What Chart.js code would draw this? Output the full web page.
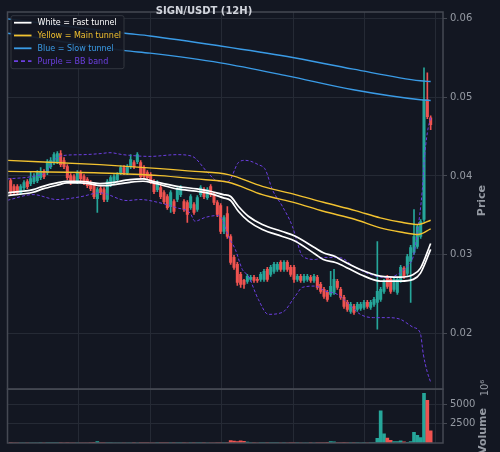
<!DOCTYPE html>
<html>
<head>
<meta charset="utf-8">
<script src="https://cdn.jsdelivr.net/npm/chart.js@4.4.0/dist/chart.umd.min.js"></script>
<style>
  html, body { margin: 0; padding: 0; background: #131722; }
</style>
</head>
<body>
<canvas id="chart" width="500" height="452"></canvas>
<script>
// candles, 12h bars, index 0..126
const open = [
  0.03940, 0.03864, 0.03864, 0.03788, 0.03852, 0.03928, 0.03902, 0.03928, 0.03940, 0.03978,
  0.04054, 0.04042, 0.04118, 0.04169, 0.04181, 0.04283, 0.04194, 0.04118, 0.04004, 0.03991,
  0.03928, 0.04042, 0.03991, 0.03953, 0.03915, 0.03877, 0.03712, 0.03839, 0.03826, 0.03700,
  0.03890, 0.03915, 0.03953, 0.04042, 0.04105, 0.04042, 0.04118, 0.04169, 0.04181, 0.04169,
  0.04105, 0.04042, 0.04016, 0.03928, 0.03826, 0.03852, 0.03788, 0.03738, 0.03611, 0.03674,
  0.03700, 0.03763, 0.03674, 0.03662, 0.03598, 0.03636, 0.03573, 0.03763, 0.03826, 0.03725,
  0.03864, 0.03763, 0.03662, 0.03624, 0.03294, 0.03522, 0.03231, 0.02965, 0.02876, 0.02749,
  0.02673, 0.02660, 0.02686, 0.02711, 0.02686, 0.02686, 0.02686, 0.02812, 0.02749, 0.02787,
  0.02812, 0.02901, 0.02812, 0.02901, 0.02838, 0.02838, 0.02686, 0.02724, 0.02673, 0.02686,
  0.02711, 0.02673, 0.02711, 0.02622, 0.02559, 0.02521, 0.02496, 0.02521, 0.02660, 0.02559,
  0.02458, 0.02394, 0.02280, 0.02343, 0.02305, 0.02318, 0.02331, 0.02394, 0.02331, 0.02369,
  0.02394, 0.02432, 0.02534, 0.02711, 0.02686, 0.02559, 0.02521, 0.02673, 0.02825, 0.02762,
  0.02914, 0.03028, 0.03104, 0.03231, 0.03446, 0.04967, 0.04739
];
const high = [
  0.03966, 0.03890, 0.03890, 0.03890, 0.03940, 0.03953, 0.04054, 0.04029, 0.04067, 0.04105,
  0.04080, 0.04207, 0.04232, 0.04295, 0.04308, 0.04321, 0.04232, 0.04143, 0.04029, 0.04016,
  0.04067, 0.04067, 0.04016, 0.03978, 0.03940, 0.03902, 0.03852, 0.03864, 0.03852, 0.03953,
  0.04004, 0.04016, 0.04042, 0.04131, 0.04131, 0.04143, 0.04270, 0.04194, 0.04295, 0.04194,
  0.04131, 0.04067, 0.04042, 0.03953, 0.03940, 0.03877, 0.03814, 0.03763, 0.03814, 0.03700,
  0.03852, 0.03877, 0.03700, 0.03687, 0.03763, 0.03662, 0.03750, 0.03877, 0.03852, 0.03852,
  0.03890, 0.03788, 0.03687, 0.03649, 0.03497, 0.03611, 0.03256, 0.02990, 0.02901, 0.02774,
  0.02686, 0.02749, 0.02736, 0.02736, 0.02711, 0.02774, 0.02812, 0.02838, 0.02863, 0.02901,
  0.02901, 0.02926, 0.02926, 0.02926, 0.02863, 0.02863, 0.02749, 0.02749, 0.02749, 0.02749,
  0.02736, 0.02749, 0.02736, 0.02648, 0.02584, 0.02546, 0.02787, 0.02812, 0.02686, 0.02584,
  0.02483, 0.02419, 0.02394, 0.02369, 0.02394, 0.02394, 0.02419, 0.02419, 0.02419, 0.02458,
  0.03167, 0.02584, 0.02686, 0.02736, 0.02711, 0.02711, 0.02711, 0.02863, 0.02850, 0.03003,
  0.03117, 0.03573, 0.03383, 0.03446, 0.05373, 0.05309, 0.04764
];
const low = [
  0.03763, 0.03763, 0.03776, 0.03763, 0.03826, 0.03839, 0.03877, 0.03902, 0.03915, 0.03953,
  0.03966, 0.04016, 0.04093, 0.04143, 0.04156, 0.04118, 0.04093, 0.03953, 0.03890, 0.03915,
  0.03902, 0.03940, 0.03890, 0.03852, 0.03814, 0.03712, 0.03535, 0.03763, 0.03674, 0.03674,
  0.03864, 0.03890, 0.03928, 0.04016, 0.04016, 0.04016, 0.04093, 0.04093, 0.04156, 0.03966,
  0.03966, 0.03953, 0.03902, 0.03776, 0.03801, 0.03712, 0.03649, 0.03573, 0.03535, 0.03522,
  0.03674, 0.03738, 0.03548, 0.03408, 0.03573, 0.03510, 0.03548, 0.03738, 0.03712, 0.03700,
  0.03738, 0.03636, 0.03484, 0.03268, 0.03268, 0.03205, 0.02876, 0.02812, 0.02610, 0.02584,
  0.02571, 0.02635, 0.02660, 0.02648, 0.02648, 0.02660, 0.02660, 0.02660, 0.02724, 0.02762,
  0.02787, 0.02787, 0.02787, 0.02787, 0.02724, 0.02648, 0.02660, 0.02648, 0.02648, 0.02660,
  0.02648, 0.02648, 0.02559, 0.02508, 0.02445, 0.02407, 0.02470, 0.02496, 0.02559, 0.02432,
  0.02318, 0.02280, 0.02255, 0.02242, 0.02280, 0.02293, 0.02305, 0.02318, 0.02305, 0.02343,
  0.02052, 0.02407, 0.02508, 0.02571, 0.02508, 0.02534, 0.02496, 0.02648, 0.02698, 0.02736,
  0.02394, 0.03003, 0.03079, 0.03205, 0.03421, 0.04726, 0.04587
];
const close = [
  0.03788, 0.03788, 0.03788, 0.03864, 0.03915, 0.03864, 0.03966, 0.03991, 0.04042, 0.04054,
  0.03991, 0.04181, 0.04194, 0.04270, 0.04283, 0.04143, 0.04118, 0.03978, 0.03915, 0.03940,
  0.04042, 0.03966, 0.03915, 0.03877, 0.03839, 0.03738, 0.03826, 0.03788, 0.03700, 0.03928,
  0.03978, 0.03991, 0.04016, 0.04105, 0.04042, 0.04118, 0.04207, 0.04118, 0.04270, 0.03991,
  0.03991, 0.03978, 0.03928, 0.03801, 0.03915, 0.03738, 0.03674, 0.03598, 0.03788, 0.03548,
  0.03826, 0.03852, 0.03573, 0.03510, 0.03738, 0.03535, 0.03725, 0.03852, 0.03738, 0.03826,
  0.03763, 0.03662, 0.03510, 0.03294, 0.03472, 0.03231, 0.02901, 0.02838, 0.02648, 0.02622,
  0.02622, 0.02724, 0.02711, 0.02673, 0.02673, 0.02749, 0.02787, 0.02686, 0.02838, 0.02876,
  0.02876, 0.02812, 0.02901, 0.02812, 0.02749, 0.02686, 0.02724, 0.02673, 0.02724, 0.02724,
  0.02673, 0.02724, 0.02584, 0.02534, 0.02470, 0.02432, 0.02597, 0.02686, 0.02584, 0.02458,
  0.02343, 0.02305, 0.02369, 0.02267, 0.02369, 0.02369, 0.02394, 0.02343, 0.02394, 0.02432,
  0.02534, 0.02559, 0.02660, 0.02597, 0.02534, 0.02686, 0.02686, 0.02838, 0.02724, 0.02977,
  0.03091, 0.03231, 0.03357, 0.03421, 0.04967, 0.04751, 0.04650
];
// volume in millions
const volume = [
  45, 30, 25, 28, 22, 20, 35, 30, 28, 40, 25, 55, 40, 60, 50, 55, 35, 45, 30, 25, 35, 30, 28, 32, 40,
  90, 180,
  60, 45, 70, 40, 35, 30, 28, 35, 25, 30, 45, 30, 50, 45, 40, 30, 35, 60, 40, 45,
  50, 55, 70, 45, 50, 40, 35, 45, 60, 50, 55, 40, 30, 35, 30, 40, 55, 50, 40,
  320, 260, 180, 300, 220, 120,
  60, 40, 35, 45, 50, 40, 55, 45, 40, 35, 40, 30, 45, 70, 40, 30, 35, 30, 40, 35, 50, 60, 70, 80,
  200, 150, 60, 70, 80, 60, 50, 55, 40, 35, 40, 30, 45, 50,
  600, 4200, 1200, 650, 350, 200, 200, 300, 150, 100, 200, 1400, 1000, 700, 6500, 5600, 1600
];

// tunnels (read at sample bars)
const fastIdx = [-0.95, 6.7, 9.7, 13.9, 16.9, 20.8, 23.8, 26.8, 29.8, 35.8, 39.7, 42.7, 49.9, 55.9, 59.9, 63.8, 65.9, 68.3, 71.3, 75.5, 81.5, 85.4, 91.4, 93.8, 97.4, 98.9, 104.9, 110.9, 116.9, 120.8, 122.9, 126];
const fastA = [0.03785, 0.03826, 0.03868, 0.03911, 0.03932, 0.03932, 0.03919, 0.03902, 0.03911, 0.03953, 0.03962, 0.03932, 0.03868, 0.03835, 0.03805, 0.03763, 0.03741, 0.03615, 0.03488, 0.03383, 0.03294, 0.03234, 0.03084, 0.03024, 0.02977, 0.02939, 0.02812, 0.02728, 0.02715, 0.02749, 0.02825, 0.03142];
const fastB = [0.03750, 0.03792, 0.03835, 0.03881, 0.03911, 0.03911, 0.03899, 0.03877, 0.03881, 0.03919, 0.03932, 0.03911, 0.03835, 0.03805, 0.03776, 0.03721, 0.03691, 0.03551, 0.03425, 0.03319, 0.03231, 0.03171, 0.03005, 0.02939, 0.02901, 0.02876, 0.02749, 0.02664, 0.02664, 0.02686, 0.02762, 0.03066];

const mainIdx = [-0.95, 26.8, 44.8, 55.3, 65.3, 75.5, 85.4, 93.8, 103.4, 110.9, 116.9, 122.3, 126];
const mainA = [0.04198, 0.04143, 0.04093, 0.04058, 0.04016, 0.03868, 0.03763, 0.03665, 0.03560, 0.03468, 0.03414, 0.03383, 0.03437];
const mainB = [0.04058, 0.04038, 0.04004, 0.03962, 0.03919, 0.03763, 0.03658, 0.03551, 0.03446, 0.03341, 0.03288, 0.03256, 0.03328];

const slowIdx = [-0.95, 34.3, 41.8, 62.9, 83.0, 102.8, 122.9, 126];
const slowA = [0.05994, 0.05812, 0.05778, 0.05651, 0.05516, 0.05356, 0.05208, 0.05199];
const slowB = [0.05812, 0.05592, 0.05559, 0.05436, 0.05271, 0.05094, 0.04967, 0.04958];

// bollinger band
const bbUpIdx = [-0.95, 6.7, 10.9, 12.7, 15.4, 21.7, 26.8, 29.8, 33.7, 41.8, 49.9, 53.8, 55.3, 59.2, 62.3, 65.3, 68.3, 70.4, 74.3, 76.4, 78.5, 81.5, 84.5, 86.0, 87.5, 91.4, 93.8, 98.9, 102.8, 107.9, 113.0, 116.9, 119.0, 120.8, 122.0, 123.5, 124.1, 125.0, 126];
const bbUp = [0.03962, 0.03995, 0.04058, 0.04185, 0.04257, 0.04270, 0.04283, 0.04295, 0.04270, 0.04248, 0.04270, 0.04257, 0.04228, 0.04038, 0.03932, 0.03932, 0.04169, 0.04198, 0.04143, 0.04080, 0.03826, 0.03615, 0.03361, 0.03155, 0.02981, 0.02939, 0.02965, 0.02961, 0.02854, 0.02749, 0.02707, 0.02771, 0.02854, 0.02981, 0.03281, 0.03826, 0.04207, 0.04549, 0.04739];
const bbLowIdx = [-0.95, 6.7, 13.9, 20.8, 26.8, 34.9, 38.8, 44.8, 49.9, 53.8, 55.3, 58.3, 62.0, 63.5, 65.3, 67.4, 69.5, 71.3, 74.3, 77.3, 81.5, 85.4, 87.5, 91.4, 94.4, 98.0, 101.0, 104.9, 108.8, 113.0, 116.9, 120.8, 122.9, 123.8, 125.0, 126];
const bbLow = [0.03691, 0.03763, 0.03700, 0.03734, 0.03785, 0.03687, 0.03700, 0.03658, 0.03594, 0.03531, 0.03425, 0.03472, 0.03497, 0.03446, 0.03234, 0.03066, 0.02812, 0.02728, 0.02432, 0.02242, 0.02267, 0.02474, 0.02584, 0.02601, 0.02537, 0.02496, 0.02390, 0.02242, 0.02200, 0.02200, 0.02179, 0.02077, 0.02001, 0.01735, 0.01507, 0.01380];

const priceTicks = [0.02, 0.03, 0.04, 0.05, 0.06];
const volTicks = [2500, 5000];
const gridX = [20.2, 42.0, 63.2, 84.7, 106.1, 127.5];

const BG = '#131722';
const GRID = '#252a35';
const SPINE = '#454953';
const TXT = '#959aa3';
const UP = '#26a69a';
const DOWN = '#ef5350';
const WHITE = '#ffffff';
const YELLOW = '#f2c230';
const BLUE = '#3a9be6';
const PURPLE = '#6c3fe0';
const FONT = '"DejaVu Sans", sans-serif';

const candleColor = open.map((o, i) => close[i] >= o ? UP : DOWN);

function pts(xs, ys) {
  return xs.map((x, k) => ({ x: x, y: ys[k] }));
}

function lineSet(xs, ys, color, width, dash) {
  return {
    type: 'line',
    data: pts(xs, ys),
    borderColor: color,
    borderWidth: width,
    borderDash: dash || [],
    pointRadius: 0,
    cubicInterpolationMode: 'monotone',
    yAxisID: 'y',
    order: dash ? 3 : 1
  };
}

function rotText(ctx, text, x, y, font) {
  ctx.save();
  ctx.translate(x, y);
  ctx.rotate(-Math.PI / 2);
  ctx.font = font;
  ctx.textAlign = 'center';
  ctx.textBaseline = 'middle';
  ctx.fillText(text, 0, 0);
  ctx.restore();
}

const frame = {
  id: 'frame',
  beforeDraw(chart) {
    const c = chart.ctx;
    c.save();
    c.fillStyle = BG;
    c.fillRect(0, 0, chart.width, chart.height);
    c.restore();
  },
  afterDraw(chart) {
    const c = chart.ctx;
    const a = chart.chartArea;
    const py = chart.scales.y;
    const vy = chart.scales.vol;
    c.save();
    c.strokeStyle = SPINE;
    c.lineWidth = 1.5;
    c.strokeRect(a.left, py.top, a.right - a.left, py.bottom - py.top);
    c.strokeRect(a.left, vy.top, a.right - a.left, vy.bottom - vy.top);

    c.fillStyle = '#d1d4dc';
    c.font = 'bold 10px ' + FONT;
    c.textAlign = 'center';
    c.textBaseline = 'middle';
    c.fillText('SIGN/USDT (12H)', 204, 11.5);

    c.fillStyle = TXT;
    rotText(c, 'Price', 482, (py.top + py.bottom) / 2, 'bold 11px ' + FONT);
    rotText(c, 'Volume', 483, 431, 'bold 11px ' + FONT);
    rotText(c, '10\u2076', 485, 388, '10px ' + FONT);

    // legend
    c.fillStyle = 'rgba(19,23,34,0.92)';
    c.strokeStyle = '#32363f';
    c.lineWidth = 1;
    c.beginPath();
    c.roundRect(11, 15.7, 113, 53, 2);
    c.fill();
    c.stroke();
    const items = [
      ['White = Fast tunnel', WHITE, false],
      ['Yellow = Main tunnel', YELLOW, false],
      ['Blue = Slow tunnel', BLUE, false],
      ['Purple = BB band', PURPLE, true]
    ];
    c.font = '8px ' + FONT;
    c.textAlign = 'left';
    items.forEach((it, k) => {
      const yy = 22.7 + k * 12.8;
      c.strokeStyle = it[1];
      c.lineWidth = 1.8;
      c.setLineDash(it[2] ? [4, 3] : []);
      c.beginPath();
      c.moveTo(14, yy);
      c.lineTo(31.5, yy);
      c.stroke();
      c.setLineDash([]);
      c.fillStyle = it[1];
      c.fillText(it[0], 37.5, yy + 0.5);
    });
    c.restore();
  }
};

const ctx = document.getElementById('chart');

new Chart(ctx, {
  type: 'line',
  data: {
    datasets: [
      lineSet(fastIdx, fastA, WHITE, 1.7),
      lineSet(fastIdx, fastB, WHITE, 1.7),
      lineSet(mainIdx, mainA, YELLOW, 1.4),
      lineSet(mainIdx, mainB, YELLOW, 1.4),
      lineSet(slowIdx, slowA, BLUE, 1.4),
      lineSet(slowIdx, slowB, BLUE, 1.4),
      lineSet(bbUpIdx, bbUp, PURPLE, 1, [3, 2]),
      lineSet(bbLowIdx, bbLow, PURPLE, 1, [3, 2]),
      {
        type: 'bar',
        data: open.map((o, i) => ({ x: i, y: [low[i], high[i]] })),
        backgroundColor: candleColor,
        barThickness: 1,
        grouped: false,
        yAxisID: 'y',
        order: 6
      },
      {
        type: 'bar',
        data: open.map((o, i) => ({ x: i, y: [o, close[i]] })),
        backgroundColor: candleColor,
        barThickness: 2.4,
        minBarLength: 1,
        grouped: false,
        yAxisID: 'y',
        order: 5
      },
      {
        type: 'bar',
        data: volume.map((v, i) => ({ x: i, y: v })),
        backgroundColor: candleColor,
        barThickness: 3,
        grouped: false,
        yAxisID: 'vol',
        order: 5
      }
    ]
  },
  options: {
    responsive: false,
    animation: false,
    layout: { padding: { left: 7.5, top: 12, right: 0, bottom: 7.7 } },
    plugins: { legend: { display: false }, tooltip: { enabled: false } },
    scales: {
      x: {
        type: 'linear',
        min: -0.95,
        max: 129.7,
        offset: false,
        afterBuildTicks: s => { s.ticks = gridX.map(v => ({ value: v })); },
        ticks: { display: false },
        grid: { color: GRID, drawTicks: false, offset: false },
        border: { display: false },
        afterFit: s => { s.height = 0; }
      },
      y: {
        position: 'right',
        stack: 'panes',
        stackWeight: 378,
        min: 0.01292,
        max: 0.06082,
        afterBuildTicks: s => { s.ticks = priceTicks.map(v => ({ value: v })); },
        ticks: { color: TXT, font: { family: FONT, size: 10 }, padding: 3, autoSkip: false, callback: v => v.toFixed(2) },
        grid: { color: GRID, tickColor: SPINE, tickLength: 4 },
        border: { display: false },
        afterFit: s => { s.width = 57; }
      },
      vol: {
        position: 'right',
        stack: 'panes',
        stackWeight: 54,
        min: 0,
        max: 7050,
        afterBuildTicks: s => { s.ticks = volTicks.map(v => ({ value: v })); },
        ticks: { color: TXT, font: { family: FONT, size: 10 }, padding: 3, autoSkip: false, callback: v => String(v) },
        grid: { color: GRID, tickColor: SPINE, tickLength: 4 },
        border: { display: false },
        afterFit: s => { s.width = 57; }
      }
    }
  },
  plugins: [frame]
});
</script>
</body>
</html>
